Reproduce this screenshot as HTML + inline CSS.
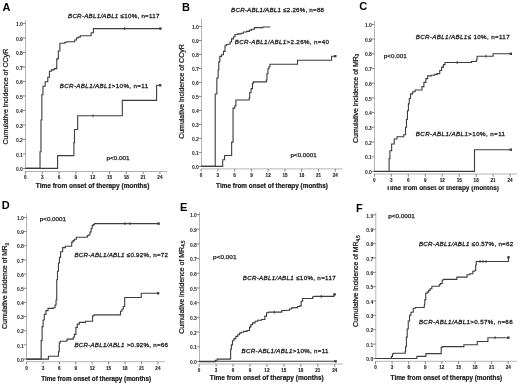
<!DOCTYPE html><html><head><meta charset="utf-8"><style>html,body{margin:0;padding:0;background:#fff;}svg{display:block;filter:blur(0.3px);}text{font-family:"Liberation Sans", sans-serif;}</style></head><body>
<svg width="520" height="384" viewBox="0 0 520 384">
<rect width="520" height="384" fill="#fff"/>
<g><text x="2.6" y="10.6" font-size="11" font-weight="bold" fill="#000">A</text><line x1="25.5" y1="20" x2="25.5" y2="168.95" stroke="#b4b4b4" stroke-width="1"/><line x1="22.7" y1="168.45" x2="25.5" y2="168.45" stroke="#6a6a6a" stroke-width="0.8"/><text x="22.9" y="171.1" font-size="5" font-weight="bold" text-anchor="end" fill="#1a1a1a">0.0</text><line x1="22.7" y1="153.95" x2="25.5" y2="153.95" stroke="#6a6a6a" stroke-width="0.8"/><text x="22.9" y="156.6" font-size="5" font-weight="bold" text-anchor="end" fill="#1a1a1a">0.1</text><line x1="22.7" y1="139.45" x2="25.5" y2="139.45" stroke="#6a6a6a" stroke-width="0.8"/><text x="22.9" y="142.1" font-size="5" font-weight="bold" text-anchor="end" fill="#1a1a1a">0.2</text><line x1="22.7" y1="124.95" x2="25.5" y2="124.95" stroke="#6a6a6a" stroke-width="0.8"/><text x="22.9" y="127.6" font-size="5" font-weight="bold" text-anchor="end" fill="#1a1a1a">0.3</text><line x1="22.7" y1="110.45" x2="25.5" y2="110.45" stroke="#6a6a6a" stroke-width="0.8"/><text x="22.9" y="113.1" font-size="5" font-weight="bold" text-anchor="end" fill="#1a1a1a">0.4</text><line x1="22.7" y1="95.95" x2="25.5" y2="95.95" stroke="#6a6a6a" stroke-width="0.8"/><text x="22.9" y="98.6" font-size="5" font-weight="bold" text-anchor="end" fill="#1a1a1a">0.5</text><line x1="22.7" y1="81.45" x2="25.5" y2="81.45" stroke="#6a6a6a" stroke-width="0.8"/><text x="22.9" y="84.1" font-size="5" font-weight="bold" text-anchor="end" fill="#1a1a1a">0.6</text><line x1="22.7" y1="66.95" x2="25.5" y2="66.95" stroke="#6a6a6a" stroke-width="0.8"/><text x="22.9" y="69.6" font-size="5" font-weight="bold" text-anchor="end" fill="#1a1a1a">0.7</text><line x1="22.7" y1="52.45" x2="25.5" y2="52.45" stroke="#6a6a6a" stroke-width="0.8"/><text x="22.9" y="55.1" font-size="5" font-weight="bold" text-anchor="end" fill="#1a1a1a">0.8</text><line x1="22.7" y1="37.95" x2="25.5" y2="37.95" stroke="#6a6a6a" stroke-width="0.8"/><text x="22.9" y="40.6" font-size="5" font-weight="bold" text-anchor="end" fill="#1a1a1a">0.9</text><line x1="22.7" y1="23.45" x2="25.5" y2="23.45" stroke="#6a6a6a" stroke-width="0.8"/><text x="22.9" y="26.1" font-size="5" font-weight="bold" text-anchor="end" fill="#1a1a1a">1.0</text><line x1="25" y1="171.5" x2="167.2" y2="171.5" stroke="#b4b4b4" stroke-width="1"/><line x1="25.4" y1="171.5" x2="25.4" y2="174.3" stroke="#6a6a6a" stroke-width="0.8"/><text x="25.4" y="179.4" font-size="4.6" font-weight="bold" text-anchor="middle" fill="#1a1a1a" stroke="#1a1a1a" stroke-width="0.1">0</text><line x1="42.21" y1="171.5" x2="42.21" y2="174.3" stroke="#6a6a6a" stroke-width="0.8"/><text x="42.21" y="179.4" font-size="4.6" font-weight="bold" text-anchor="middle" fill="#1a1a1a" stroke="#1a1a1a" stroke-width="0.1">3</text><line x1="59.02" y1="171.5" x2="59.02" y2="174.3" stroke="#6a6a6a" stroke-width="0.8"/><text x="59.02" y="179.4" font-size="4.6" font-weight="bold" text-anchor="middle" fill="#1a1a1a" stroke="#1a1a1a" stroke-width="0.1">6</text><line x1="75.84" y1="171.5" x2="75.84" y2="174.3" stroke="#6a6a6a" stroke-width="0.8"/><text x="75.84" y="179.4" font-size="4.6" font-weight="bold" text-anchor="middle" fill="#1a1a1a" stroke="#1a1a1a" stroke-width="0.1">9</text><line x1="92.65" y1="171.5" x2="92.65" y2="174.3" stroke="#6a6a6a" stroke-width="0.8"/><text x="92.65" y="179.4" font-size="4.6" font-weight="bold" text-anchor="middle" fill="#1a1a1a" stroke="#1a1a1a" stroke-width="0.1">12</text><line x1="109.46" y1="171.5" x2="109.46" y2="174.3" stroke="#6a6a6a" stroke-width="0.8"/><text x="109.46" y="179.4" font-size="4.6" font-weight="bold" text-anchor="middle" fill="#1a1a1a" stroke="#1a1a1a" stroke-width="0.1">15</text><line x1="126.28" y1="171.5" x2="126.28" y2="174.3" stroke="#6a6a6a" stroke-width="0.8"/><text x="126.28" y="179.4" font-size="4.6" font-weight="bold" text-anchor="middle" fill="#1a1a1a" stroke="#1a1a1a" stroke-width="0.1">18</text><line x1="143.09" y1="171.5" x2="143.09" y2="174.3" stroke="#6a6a6a" stroke-width="0.8"/><text x="143.09" y="179.4" font-size="4.6" font-weight="bold" text-anchor="middle" fill="#1a1a1a" stroke="#1a1a1a" stroke-width="0.1">21</text><line x1="159.9" y1="171.5" x2="159.9" y2="174.3" stroke="#6a6a6a" stroke-width="0.8"/><text x="159.9" y="179.4" font-size="4.6" font-weight="bold" text-anchor="middle" fill="#1a1a1a" stroke="#1a1a1a" stroke-width="0.1">24</text><text x="35.8" y="188.2" font-size="6.5" font-weight="bold" fill="#1a1a1a" stroke="#1a1a1a" stroke-width="0.2" textLength="113.6" lengthAdjust="spacingAndGlyphs">Time from onset of therapy (months)</text><text transform="translate(8,144.5) rotate(-90)" x="0" y="0" font-size="7" fill="#1a1a1a" stroke="#1a1a1a" stroke-width="0.25" textLength="95.8" lengthAdjust="spacingAndGlyphs">Cumulative incidence of CCyR</text><text x="68" y="18.3" font-size="6.2" fill="#1a1a1a" stroke="#1a1a1a" stroke-width="0.28" textLength="91.4" lengthAdjust="spacing"><tspan font-style="italic">BCR-ABL1/ABL1</tspan> ≤10%, n=117</text><text x="59.7" y="88.4" font-size="6.2" fill="#1a1a1a" stroke="#1a1a1a" stroke-width="0.28" textLength="88.4" lengthAdjust="spacing"><tspan font-style="italic">BCR-ABL1/ABL1</tspan>>10%, n=11</text><text x="106.5" y="159.7" font-size="6.0" fill="#1a1a1a" stroke="#1a1a1a" stroke-width="0.25" textLength="23.1" lengthAdjust="spacingAndGlyphs">p&lt;0.001</text><polyline points="25.4,168.4 39.3,168.4 40.02,168.4 40.02,151.75 40.75,151.75 40.98,151.75 40.98,120 41.2,120 41.85,120 41.85,94.7 42.5,94.7 42.95,94.7 42.95,86.3 43.4,86.3 45.2,86.3 45.2,81.7 47,81.7 47.8,81.7 47.8,77.2 48.6,77.2 49.45,77.2 49.45,71.3 50.3,71.3 51.45,71.3 51.45,69.9 52.6,69.9 54.25,69.9 54.25,68.6 55.9,68.6 56.75,68.6 56.75,58.9 57.6,58.9 58.35,58.9 58.35,51 59.1,51 59.9,51 59.9,43.2 60.7,43.2 63.7,43.2 64.65,43.2 64.65,42.3 65.6,42.3 66.9,42.3 66.9,41.7 68.2,41.7 73.4,41.7 74.7,41.7 74.7,40 76,40 76.55,40 76.55,38 77.1,38 78.2,38 78.2,37.1 79.3,37.1 80.28,37.1 80.28,35.7 81.25,35.7 90.4,35.7 91.15,35.7 91.15,32.8 91.9,32.8 93.4,32.8 93.4,28.6 94.9,28.6 160.4,28.6" fill="none" stroke="#3c3c3c" stroke-width="1.1" stroke-linejoin="miter"/><rect x="159.2" y="27.4" width="2.4" height="2.4" fill="#3c3c3c"/><polyline points="25.4,168.4 57.6,168.4 57.6,155.65 73.9,155.65 73.9,142.6 74.5,142.6 74.5,129.5 77.7,129.5 77.7,115.8 122.3,115.8 122.3,100.4 156.6,100.4 156.6,85.3 160.2,85.3" fill="none" stroke="#3c3c3c" stroke-width="1.1" stroke-linejoin="miter"/><rect x="159" y="84.1" width="2.4" height="2.4" fill="#3c3c3c"/><rect x="124.1" y="27.2" width="1" height="2.8" fill="#3c3c3c"/><rect x="92.5" y="114.4" width="1" height="2.8" fill="#3c3c3c"/></g>
<g><text x="182.1" y="11" font-size="11" font-weight="bold" fill="#000">B</text><line x1="201.5" y1="18.75" x2="201.5" y2="166.9" stroke="#b4b4b4" stroke-width="1"/><line x1="198.7" y1="166.4" x2="201.5" y2="166.4" stroke="#6a6a6a" stroke-width="0.8"/><text x="198.9" y="169.05" font-size="5" font-weight="bold" text-anchor="end" fill="#1a1a1a">0.0</text><line x1="198.7" y1="152.41" x2="201.5" y2="152.41" stroke="#6a6a6a" stroke-width="0.8"/><text x="198.9" y="155.06" font-size="5" font-weight="bold" text-anchor="end" fill="#1a1a1a">0.1</text><line x1="198.7" y1="138.42" x2="201.5" y2="138.42" stroke="#6a6a6a" stroke-width="0.8"/><text x="198.9" y="141.07" font-size="5" font-weight="bold" text-anchor="end" fill="#1a1a1a">0.2</text><line x1="198.7" y1="124.43" x2="201.5" y2="124.43" stroke="#6a6a6a" stroke-width="0.8"/><text x="198.9" y="127.08" font-size="5" font-weight="bold" text-anchor="end" fill="#1a1a1a">0.3</text><line x1="198.7" y1="110.44" x2="201.5" y2="110.44" stroke="#6a6a6a" stroke-width="0.8"/><text x="198.9" y="113.09" font-size="5" font-weight="bold" text-anchor="end" fill="#1a1a1a">0.4</text><line x1="198.7" y1="96.45" x2="201.5" y2="96.45" stroke="#6a6a6a" stroke-width="0.8"/><text x="198.9" y="99.1" font-size="5" font-weight="bold" text-anchor="end" fill="#1a1a1a">0.5</text><line x1="198.7" y1="82.46" x2="201.5" y2="82.46" stroke="#6a6a6a" stroke-width="0.8"/><text x="198.9" y="85.11" font-size="5" font-weight="bold" text-anchor="end" fill="#1a1a1a">0.6</text><line x1="198.7" y1="68.47" x2="201.5" y2="68.47" stroke="#6a6a6a" stroke-width="0.8"/><text x="198.9" y="71.12" font-size="5" font-weight="bold" text-anchor="end" fill="#1a1a1a">0.7</text><line x1="198.7" y1="54.48" x2="201.5" y2="54.48" stroke="#6a6a6a" stroke-width="0.8"/><text x="198.9" y="57.13" font-size="5" font-weight="bold" text-anchor="end" fill="#1a1a1a">0.8</text><line x1="198.7" y1="40.49" x2="201.5" y2="40.49" stroke="#6a6a6a" stroke-width="0.8"/><text x="198.9" y="43.14" font-size="5" font-weight="bold" text-anchor="end" fill="#1a1a1a">0.9</text><line x1="198.7" y1="26.5" x2="201.5" y2="26.5" stroke="#6a6a6a" stroke-width="0.8"/><text x="198.9" y="29.15" font-size="5" font-weight="bold" text-anchor="end" fill="#1a1a1a">1.0</text><line x1="201" y1="168.9" x2="342.5" y2="168.9" stroke="#b4b4b4" stroke-width="1"/><line x1="201.1" y1="168.9" x2="201.1" y2="171.7" stroke="#6a6a6a" stroke-width="0.8"/><text x="201.1" y="176.8" font-size="4.6" font-weight="bold" text-anchor="middle" fill="#1a1a1a" stroke="#1a1a1a" stroke-width="0.1">0</text><line x1="217.87" y1="168.9" x2="217.87" y2="171.7" stroke="#6a6a6a" stroke-width="0.8"/><text x="217.87" y="176.8" font-size="4.6" font-weight="bold" text-anchor="middle" fill="#1a1a1a" stroke="#1a1a1a" stroke-width="0.1">3</text><line x1="234.64" y1="168.9" x2="234.64" y2="171.7" stroke="#6a6a6a" stroke-width="0.8"/><text x="234.64" y="176.8" font-size="4.6" font-weight="bold" text-anchor="middle" fill="#1a1a1a" stroke="#1a1a1a" stroke-width="0.1">6</text><line x1="251.41" y1="168.9" x2="251.41" y2="171.7" stroke="#6a6a6a" stroke-width="0.8"/><text x="251.41" y="176.8" font-size="4.6" font-weight="bold" text-anchor="middle" fill="#1a1a1a" stroke="#1a1a1a" stroke-width="0.1">9</text><line x1="268.18" y1="168.9" x2="268.18" y2="171.7" stroke="#6a6a6a" stroke-width="0.8"/><text x="268.18" y="176.8" font-size="4.6" font-weight="bold" text-anchor="middle" fill="#1a1a1a" stroke="#1a1a1a" stroke-width="0.1">12</text><line x1="284.94" y1="168.9" x2="284.94" y2="171.7" stroke="#6a6a6a" stroke-width="0.8"/><text x="284.94" y="176.8" font-size="4.6" font-weight="bold" text-anchor="middle" fill="#1a1a1a" stroke="#1a1a1a" stroke-width="0.1">15</text><line x1="301.71" y1="168.9" x2="301.71" y2="171.7" stroke="#6a6a6a" stroke-width="0.8"/><text x="301.71" y="176.8" font-size="4.6" font-weight="bold" text-anchor="middle" fill="#1a1a1a" stroke="#1a1a1a" stroke-width="0.1">18</text><line x1="318.48" y1="168.9" x2="318.48" y2="171.7" stroke="#6a6a6a" stroke-width="0.8"/><text x="318.48" y="176.8" font-size="4.6" font-weight="bold" text-anchor="middle" fill="#1a1a1a" stroke="#1a1a1a" stroke-width="0.1">21</text><line x1="335.25" y1="168.9" x2="335.25" y2="171.7" stroke="#6a6a6a" stroke-width="0.8"/><text x="335.25" y="176.8" font-size="4.6" font-weight="bold" text-anchor="middle" fill="#1a1a1a" stroke="#1a1a1a" stroke-width="0.1">24</text><text x="216.1" y="188" font-size="6.5" font-weight="bold" fill="#1a1a1a" stroke="#1a1a1a" stroke-width="0.2" textLength="111.9" lengthAdjust="spacingAndGlyphs">Time from onset of therapy (months)</text><text transform="translate(184.2,138.8) rotate(-90)" x="0" y="0" font-size="7" fill="#1a1a1a" stroke="#1a1a1a" stroke-width="0.25" textLength="94.5" lengthAdjust="spacingAndGlyphs">Cumulative incidence of CCyR</text><text x="231.1" y="11.6" font-size="6.2" fill="#1a1a1a" stroke="#1a1a1a" stroke-width="0.28" textLength="92.9" lengthAdjust="spacing"><tspan font-style="italic">BCR-ABL1/ABL1</tspan> ≤2.26%, n=88</text><text x="234.8" y="44.4" font-size="6.2" fill="#1a1a1a" stroke="#1a1a1a" stroke-width="0.28" textLength="94.2" lengthAdjust="spacing"><tspan font-style="italic">BCR-ABL1/ABL1</tspan>>2.26%, n=40</text><text x="290.6" y="156.6" font-size="6.0" fill="#1a1a1a" stroke="#1a1a1a" stroke-width="0.25" textLength="26" lengthAdjust="spacingAndGlyphs">p&lt;0.0001</text><polyline points="201.1,166.4 214.5,166.4 215.2,166.4 215.2,94 215.9,94 216.85,94 216.85,78 217.8,78 218.15,78 218.15,70 218.5,70 218.75,70 218.75,62 219,62 219.8,62 219.8,56.4 220.6,56.4 221.55,56.4 221.55,54.75 222.5,54.75 223.45,54.75 223.45,51.4 224.4,51.4 225,51.4 225,45.75 225.6,45.75 226.25,45.75 226.25,44.5 226.9,44.5 229.4,44.25 230,44.25 230,42 230.6,42 231.55,42 231.55,38.9 232.5,38.9 233.45,38.9 233.45,36.75 234.4,36.75 235,36.75 235,34.5 235.6,34.5 237.8,34.5 237.8,33.9 240,33.9 241.25,33.9 241.25,33.25 242.5,33.25 243.45,33.25 243.45,32 244.4,32 246.57,32 246.57,31.4 248.75,31.4 249.38,31.4 249.38,30.1 250,30.1 251.55,30.1 251.55,29.25 253.1,29.25 254.35,29.25 254.35,27.6 255.6,27.6 262.95,27.6 262.95,27 270.3,27" fill="none" stroke="#3c3c3c" stroke-width="1.1" stroke-linejoin="miter"/><polyline points="201.1,166.4 222.7,166.4 222.7,159.7 224.6,159.7 224.6,155.5 231.2,155.5 231.65,155.5 231.65,142.1 232.1,142.1 233.05,142.1 233.05,108.1 234,108.1 234.8,108.1 234.8,105.8 235.6,105.8 235.93,105.8 235.93,100 236.25,100 249.2,100 249.2,98 249.75,98 249.75,92.5 250.3,92.5 251.1,92.5 251.1,88.6 251.9,88.6 252.5,88.6 252.5,83.1 253.1,83.1 253.5,83.1 253.5,81.9 253.9,81.9 266.4,81.9 266.4,80 266.95,80 266.95,73.75 267.5,73.75 267.95,73.75 267.95,68.75 268.4,68.75 268.95,68.75 268.95,66.7 269.5,66.7 269.9,66.7 269.9,64.2 270.3,64.2 297.5,64.2 297.5,60.3 331.6,60.3 331.6,56.2 335.3,56.2" fill="none" stroke="#3c3c3c" stroke-width="1.1" stroke-linejoin="miter"/><rect x="334.1" y="55" width="2.4" height="2.4" fill="#3c3c3c"/></g>
<g><text x="359.2" y="10" font-size="11" font-weight="bold" fill="#000">C</text><line x1="374.5" y1="21" x2="374.5" y2="171.9" stroke="#b4b4b4" stroke-width="1"/><line x1="371.7" y1="171.4" x2="374.5" y2="171.4" stroke="#6a6a6a" stroke-width="0.8"/><text x="371.9" y="174.05" font-size="5" font-weight="bold" text-anchor="end" fill="#1a1a1a">0.0</text><line x1="371.7" y1="156.7" x2="374.5" y2="156.7" stroke="#6a6a6a" stroke-width="0.8"/><text x="371.9" y="159.35" font-size="5" font-weight="bold" text-anchor="end" fill="#1a1a1a">0.1</text><line x1="371.7" y1="142" x2="374.5" y2="142" stroke="#6a6a6a" stroke-width="0.8"/><text x="371.9" y="144.65" font-size="5" font-weight="bold" text-anchor="end" fill="#1a1a1a">0.2</text><line x1="371.7" y1="127.3" x2="374.5" y2="127.3" stroke="#6a6a6a" stroke-width="0.8"/><text x="371.9" y="129.95" font-size="5" font-weight="bold" text-anchor="end" fill="#1a1a1a">0.3</text><line x1="371.7" y1="112.6" x2="374.5" y2="112.6" stroke="#6a6a6a" stroke-width="0.8"/><text x="371.9" y="115.25" font-size="5" font-weight="bold" text-anchor="end" fill="#1a1a1a">0.4</text><line x1="371.7" y1="97.9" x2="374.5" y2="97.9" stroke="#6a6a6a" stroke-width="0.8"/><text x="371.9" y="100.55" font-size="5" font-weight="bold" text-anchor="end" fill="#1a1a1a">0.5</text><line x1="371.7" y1="83.2" x2="374.5" y2="83.2" stroke="#6a6a6a" stroke-width="0.8"/><text x="371.9" y="85.85" font-size="5" font-weight="bold" text-anchor="end" fill="#1a1a1a">0.6</text><line x1="371.7" y1="68.5" x2="374.5" y2="68.5" stroke="#6a6a6a" stroke-width="0.8"/><text x="371.9" y="71.15" font-size="5" font-weight="bold" text-anchor="end" fill="#1a1a1a">0.7</text><line x1="371.7" y1="53.8" x2="374.5" y2="53.8" stroke="#6a6a6a" stroke-width="0.8"/><text x="371.9" y="56.45" font-size="5" font-weight="bold" text-anchor="end" fill="#1a1a1a">0.8</text><line x1="371.7" y1="39.1" x2="374.5" y2="39.1" stroke="#6a6a6a" stroke-width="0.8"/><text x="371.9" y="41.75" font-size="5" font-weight="bold" text-anchor="end" fill="#1a1a1a">0.9</text><line x1="371.7" y1="24.4" x2="374.5" y2="24.4" stroke="#6a6a6a" stroke-width="0.8"/><text x="371.9" y="27.05" font-size="5" font-weight="bold" text-anchor="end" fill="#1a1a1a">1.0</text><line x1="374" y1="174" x2="517" y2="174" stroke="#b4b4b4" stroke-width="1"/><line x1="374.4" y1="174" x2="374.4" y2="176.8" stroke="#6a6a6a" stroke-width="0.8"/><text x="374.4" y="181.9" font-size="4.6" font-weight="bold" text-anchor="middle" fill="#1a1a1a" stroke="#1a1a1a" stroke-width="0.1">0</text><line x1="391.36" y1="174" x2="391.36" y2="176.8" stroke="#6a6a6a" stroke-width="0.8"/><text x="391.36" y="181.9" font-size="4.6" font-weight="bold" text-anchor="middle" fill="#1a1a1a" stroke="#1a1a1a" stroke-width="0.1">3</text><line x1="408.32" y1="174" x2="408.32" y2="176.8" stroke="#6a6a6a" stroke-width="0.8"/><text x="408.32" y="181.9" font-size="4.6" font-weight="bold" text-anchor="middle" fill="#1a1a1a" stroke="#1a1a1a" stroke-width="0.1">6</text><line x1="425.29" y1="174" x2="425.29" y2="176.8" stroke="#6a6a6a" stroke-width="0.8"/><text x="425.29" y="181.9" font-size="4.6" font-weight="bold" text-anchor="middle" fill="#1a1a1a" stroke="#1a1a1a" stroke-width="0.1">9</text><line x1="442.25" y1="174" x2="442.25" y2="176.8" stroke="#6a6a6a" stroke-width="0.8"/><text x="442.25" y="181.9" font-size="4.6" font-weight="bold" text-anchor="middle" fill="#1a1a1a" stroke="#1a1a1a" stroke-width="0.1">12</text><line x1="459.21" y1="174" x2="459.21" y2="176.8" stroke="#6a6a6a" stroke-width="0.8"/><text x="459.21" y="181.9" font-size="4.6" font-weight="bold" text-anchor="middle" fill="#1a1a1a" stroke="#1a1a1a" stroke-width="0.1">15</text><line x1="476.18" y1="174" x2="476.18" y2="176.8" stroke="#6a6a6a" stroke-width="0.8"/><text x="476.18" y="181.9" font-size="4.6" font-weight="bold" text-anchor="middle" fill="#1a1a1a" stroke="#1a1a1a" stroke-width="0.1">18</text><line x1="493.14" y1="174" x2="493.14" y2="176.8" stroke="#6a6a6a" stroke-width="0.8"/><text x="493.14" y="181.9" font-size="4.6" font-weight="bold" text-anchor="middle" fill="#1a1a1a" stroke="#1a1a1a" stroke-width="0.1">21</text><line x1="510.1" y1="174" x2="510.1" y2="176.8" stroke="#6a6a6a" stroke-width="0.8"/><text x="510.1" y="181.9" font-size="4.6" font-weight="bold" text-anchor="middle" fill="#1a1a1a" stroke="#1a1a1a" stroke-width="0.1">24</text><text x="386.2" y="189.6" font-size="6.5" font-weight="bold" fill="#1a1a1a" stroke="#1a1a1a" stroke-width="0.2" textLength="112.7" lengthAdjust="spacingAndGlyphs">Time from onset of therapy (months)</text><text transform="translate(357.8,143) rotate(-90)" x="0" y="0" font-size="7" fill="#1a1a1a" stroke="#1a1a1a" stroke-width="0.25" textLength="89.25" lengthAdjust="spacingAndGlyphs">Cumulative incidence of MR<tspan font-size="4.5" dy="1.6">3</tspan></text><text x="415.7" y="39.2" font-size="6.2" fill="#1a1a1a" stroke="#1a1a1a" stroke-width="0.28" textLength="93.9" lengthAdjust="spacing"><tspan font-style="italic">BCR-ABL1/ABL1</tspan>≤ 10%, n=117</text><text x="415.7" y="136.1" font-size="6.2" fill="#1a1a1a" stroke="#1a1a1a" stroke-width="0.28" textLength="89.3" lengthAdjust="spacing"><tspan font-style="italic">BCR-ABL1/ABL1</tspan>>10%, n=11</text><text x="383.8" y="57.7" font-size="6.0" fill="#1a1a1a" stroke="#1a1a1a" stroke-width="0.25" textLength="22.9" lengthAdjust="spacingAndGlyphs">p&lt;0.001</text><polyline points="374.4,171.5 388.9,171.5 389.1,171.5 389.1,158.6 389.3,158.6 389.9,158.6 389.9,150.8 390.5,150.8 391.65,150.8 391.65,144 392.8,144 394.25,144 394.25,139 395.7,139 397,139 397,136.7 398.3,136.7 402.6,136.7 403.75,136.7 403.75,134.8 404.9,134.8 405.5,134.8 405.5,127.3 406.1,127.3 406.5,127.3 406.5,119.5 406.9,119.5 407.45,119.5 407.45,110.7 408,110.7 408.4,110.7 408.4,103.9 408.8,103.9 409.25,103.9 409.25,98.5 409.7,98.5 410.55,98.5 410.55,93.9 411.4,93.9 412.6,93.9 412.6,91.7 413.8,91.7 415.15,91.7 415.15,90 416.5,90 421.1,90 421.95,90 421.95,86.6 422.8,86.6 423.9,86.6 423.9,82.4 425,82.4 425.85,82.4 425.85,78.6 426.7,78.6 427.7,78.6 427.7,75.9 428.7,75.9 431.25,75.9 431.25,75.3 433.8,75.3 434.65,75.3 434.65,74.4 435.5,74.4 437.2,74.4 437.2,73.6 438.9,73.6 439.75,73.6 439.75,70.5 440.6,70.5 441.6,70.5 441.6,67.1 442.6,67.1 443.45,67.1 443.45,64.6 444.3,64.6 445,64.6 445,62.5 445.7,62.5 471.5,62.5 471.5,61.5 475.7,61.5 476.3,61.5 476.3,60 476.9,60 477.2,56.2 493.1,56.2 493.1,53.8 510.8,53.8" fill="none" stroke="#3c3c3c" stroke-width="1.1" stroke-linejoin="miter"/><rect x="509.6" y="52.6" width="2.4" height="2.4" fill="#3c3c3c"/><polyline points="374.4,171.4 474.5,171.4 474.5,149.7 510.8,149.7" fill="none" stroke="#3c3c3c" stroke-width="1.1" stroke-linejoin="miter"/><rect x="509.6" y="148.5" width="2.4" height="2.4" fill="#3c3c3c"/><rect x="456.7" y="61.1" width="1" height="2.8" fill="#3c3c3c"/><rect x="485.5" y="54.8" width="1" height="2.8" fill="#3c3c3c"/></g>
<g><text x="1.8" y="208.5" font-size="11" font-weight="bold" fill="#000">D</text><line x1="26.5" y1="214.2" x2="26.5" y2="359.6" stroke="#b4b4b4" stroke-width="1"/><line x1="23.7" y1="359.1" x2="26.5" y2="359.1" stroke="#6a6a6a" stroke-width="0.8"/><text x="23.9" y="361.75" font-size="5" font-weight="bold" text-anchor="end" fill="#1a1a1a">0.0</text><line x1="23.7" y1="344.93" x2="26.5" y2="344.93" stroke="#6a6a6a" stroke-width="0.8"/><text x="23.9" y="347.58" font-size="5" font-weight="bold" text-anchor="end" fill="#1a1a1a">0.1</text><line x1="23.7" y1="330.76" x2="26.5" y2="330.76" stroke="#6a6a6a" stroke-width="0.8"/><text x="23.9" y="333.41" font-size="5" font-weight="bold" text-anchor="end" fill="#1a1a1a">0.2</text><line x1="23.7" y1="316.59" x2="26.5" y2="316.59" stroke="#6a6a6a" stroke-width="0.8"/><text x="23.9" y="319.24" font-size="5" font-weight="bold" text-anchor="end" fill="#1a1a1a">0.3</text><line x1="23.7" y1="302.42" x2="26.5" y2="302.42" stroke="#6a6a6a" stroke-width="0.8"/><text x="23.9" y="305.07" font-size="5" font-weight="bold" text-anchor="end" fill="#1a1a1a">0.4</text><line x1="23.7" y1="288.25" x2="26.5" y2="288.25" stroke="#6a6a6a" stroke-width="0.8"/><text x="23.9" y="290.9" font-size="5" font-weight="bold" text-anchor="end" fill="#1a1a1a">0.5</text><line x1="23.7" y1="274.08" x2="26.5" y2="274.08" stroke="#6a6a6a" stroke-width="0.8"/><text x="23.9" y="276.73" font-size="5" font-weight="bold" text-anchor="end" fill="#1a1a1a">0.6</text><line x1="23.7" y1="259.91" x2="26.5" y2="259.91" stroke="#6a6a6a" stroke-width="0.8"/><text x="23.9" y="262.56" font-size="5" font-weight="bold" text-anchor="end" fill="#1a1a1a">0.7</text><line x1="23.7" y1="245.74" x2="26.5" y2="245.74" stroke="#6a6a6a" stroke-width="0.8"/><text x="23.9" y="248.39" font-size="5" font-weight="bold" text-anchor="end" fill="#1a1a1a">0.8</text><line x1="23.7" y1="231.57" x2="26.5" y2="231.57" stroke="#6a6a6a" stroke-width="0.8"/><text x="23.9" y="234.22" font-size="5" font-weight="bold" text-anchor="end" fill="#1a1a1a">0.9</text><line x1="23.7" y1="217.4" x2="26.5" y2="217.4" stroke="#6a6a6a" stroke-width="0.8"/><text x="23.9" y="220.05" font-size="5" font-weight="bold" text-anchor="end" fill="#1a1a1a">1.0</text><line x1="26" y1="361.7" x2="165" y2="361.7" stroke="#b4b4b4" stroke-width="1"/><line x1="26.5" y1="361.7" x2="26.5" y2="364.5" stroke="#6a6a6a" stroke-width="0.8"/><text x="26.5" y="369.6" font-size="4.6" font-weight="bold" text-anchor="middle" fill="#1a1a1a" stroke="#1a1a1a" stroke-width="0.1">0</text><line x1="42.92" y1="361.7" x2="42.92" y2="364.5" stroke="#6a6a6a" stroke-width="0.8"/><text x="42.92" y="369.6" font-size="4.6" font-weight="bold" text-anchor="middle" fill="#1a1a1a" stroke="#1a1a1a" stroke-width="0.1">3</text><line x1="59.35" y1="361.7" x2="59.35" y2="364.5" stroke="#6a6a6a" stroke-width="0.8"/><text x="59.35" y="369.6" font-size="4.6" font-weight="bold" text-anchor="middle" fill="#1a1a1a" stroke="#1a1a1a" stroke-width="0.1">6</text><line x1="75.78" y1="361.7" x2="75.78" y2="364.5" stroke="#6a6a6a" stroke-width="0.8"/><text x="75.78" y="369.6" font-size="4.6" font-weight="bold" text-anchor="middle" fill="#1a1a1a" stroke="#1a1a1a" stroke-width="0.1">9</text><line x1="92.2" y1="361.7" x2="92.2" y2="364.5" stroke="#6a6a6a" stroke-width="0.8"/><text x="92.2" y="369.6" font-size="4.6" font-weight="bold" text-anchor="middle" fill="#1a1a1a" stroke="#1a1a1a" stroke-width="0.1">12</text><line x1="108.62" y1="361.7" x2="108.62" y2="364.5" stroke="#6a6a6a" stroke-width="0.8"/><text x="108.62" y="369.6" font-size="4.6" font-weight="bold" text-anchor="middle" fill="#1a1a1a" stroke="#1a1a1a" stroke-width="0.1">15</text><line x1="125.05" y1="361.7" x2="125.05" y2="364.5" stroke="#6a6a6a" stroke-width="0.8"/><text x="125.05" y="369.6" font-size="4.6" font-weight="bold" text-anchor="middle" fill="#1a1a1a" stroke="#1a1a1a" stroke-width="0.1">18</text><line x1="141.48" y1="361.7" x2="141.48" y2="364.5" stroke="#6a6a6a" stroke-width="0.8"/><text x="141.48" y="369.6" font-size="4.6" font-weight="bold" text-anchor="middle" fill="#1a1a1a" stroke="#1a1a1a" stroke-width="0.1">21</text><line x1="157.9" y1="361.7" x2="157.9" y2="364.5" stroke="#6a6a6a" stroke-width="0.8"/><text x="157.9" y="369.6" font-size="4.6" font-weight="bold" text-anchor="middle" fill="#1a1a1a" stroke="#1a1a1a" stroke-width="0.1">24</text><text x="41.2" y="380.8" font-size="6.5" font-weight="bold" fill="#1a1a1a" stroke="#1a1a1a" stroke-width="0.2" textLength="109.8" lengthAdjust="spacingAndGlyphs">Time from onset of therapy (months)</text><text transform="translate(7,328.9) rotate(-90)" x="0" y="0" font-size="7" fill="#1a1a1a" stroke="#1a1a1a" stroke-width="0.25" textLength="85.9" lengthAdjust="spacingAndGlyphs">Cumulative incidence of MR<tspan font-size="4.5" dy="1.6">3</tspan></text><text x="74.4" y="257.1" font-size="6.2" fill="#1a1a1a" stroke="#1a1a1a" stroke-width="0.28" textLength="93.5" lengthAdjust="spacing"><tspan font-style="italic">BCR-ABL1/ABL1</tspan> ≤0.92%, n=72</text><text x="74.4" y="347.2" font-size="6.2" fill="#1a1a1a" stroke="#1a1a1a" stroke-width="0.28" textLength="93.5" lengthAdjust="spacing"><tspan font-style="italic">BCR-ABL1/ABL1</tspan> >0.92%, n=66</text><text x="39.8" y="221.3" font-size="6.0" fill="#1a1a1a" stroke="#1a1a1a" stroke-width="0.25" textLength="26.2" lengthAdjust="spacingAndGlyphs">p&lt;0.0001</text><polyline points="26.5,359.1 40.7,359.1 41.15,359.1 41.15,340.6 41.6,340.6 42.1,340.6 42.1,326.6 42.6,326.6 43.05,326.6 43.05,320 43.5,320 44.25,320 44.25,314.4 45,314.4 45.95,314.4 45.95,310.6 46.9,310.6 48,310.6 48,308.4 49.1,308.4 52,308.4 53.2,308.4 53.2,307.8 54.4,307.8 55.05,307.8 55.05,305 55.7,305 56.05,305 56.05,300 56.4,300 56.75,300 56.75,279.7 57.1,279.7 57.5,279.7 57.5,271.3 57.9,271.3 58.45,271.3 58.45,263 59,263 59.45,263 59.45,257.4 59.9,257.4 60.6,257.4 60.6,251.8 61.3,251.8 62.65,251.8 62.65,247.6 64,247.6 65.4,247.6 65.4,246.3 66.8,246.3 71,246.3 71.7,246.3 71.7,242.1 72.4,242.1 73,242.1 73,240.6 73.6,240.6 74.4,240.6 74.4,239.3 75.2,239.3 76.35,239.3 76.35,237.3 77.5,237.3 86.9,237.3 87.35,237.3 87.35,235.5 87.8,235.5 88.55,235.5 88.55,235 89.3,235 89.9,235 89.9,232 90.5,232 91.1,232 91.1,228.5 91.7,228.5 92.15,228.5 92.15,225.6 92.6,225.6 93.2,225.6 93.2,224.6 93.8,224.6 94.45,224.6 94.45,223.6 95.1,223.6 158.6,223.6" fill="none" stroke="#3c3c3c" stroke-width="1.1" stroke-linejoin="miter"/><rect x="157.4" y="222.4" width="2.4" height="2.4" fill="#3c3c3c"/><polyline points="26.5,359.1 48.4,359.1 48.4,356.3 58.2,356.3 58.48,356.3 58.48,351.7 58.75,351.7 59.27,351.7 59.27,343 59.8,343 60.1,343 60.1,341.3 60.4,341.3 66.7,341.3 66.7,340.2 67.25,340.2 67.25,339.1 67.8,339.1 73,339.1 73.25,339.1 73.25,337.3 73.5,337.3 74.35,337.3 74.35,334.4 75.2,334.4 75.9,334.4 75.9,327.4 76.6,327.4 77.3,327.4 77.3,324.1 78,324.1 79.4,324.1 79.4,322.4 80.8,322.4 85,322.4 85.4,322.4 85.4,321.3 85.8,321.3 91.9,321.3 92.6,321.3 92.6,315.7 93.3,315.7 94,315.7 94,314.9 94.7,314.9 119.8,314.9 120.5,314.9 120.5,311.2 121.2,311.2 121.9,311.2 121.9,309.3 122.6,309.3 123.3,309.3 123.3,306.5 124,306.5 124.7,306.5 124.7,297.5 125.4,297.5 141,297.5 141.25,297.5 141.25,293.3 141.5,293.3 158.1,293.3" fill="none" stroke="#3c3c3c" stroke-width="1.1" stroke-linejoin="miter"/><rect x="156.9" y="292.1" width="2.4" height="2.4" fill="#3c3c3c"/><rect x="124.5" y="222.2" width="1" height="2.8" fill="#3c3c3c"/><rect x="129.5" y="222.2" width="1" height="2.8" fill="#3c3c3c"/></g>
<g><text x="180.1" y="211" font-size="11" font-weight="bold" fill="#000">E</text><line x1="199.5" y1="212" x2="199.5" y2="362" stroke="#b4b4b4" stroke-width="1"/><line x1="196.7" y1="361.5" x2="199.5" y2="361.5" stroke="#6a6a6a" stroke-width="0.8"/><text x="196.9" y="364.15" font-size="5" font-weight="bold" text-anchor="end" fill="#1a1a1a">0.0</text><line x1="196.7" y1="346.8" x2="199.5" y2="346.8" stroke="#6a6a6a" stroke-width="0.8"/><text x="196.9" y="349.45" font-size="5" font-weight="bold" text-anchor="end" fill="#1a1a1a">0.1</text><line x1="196.7" y1="332.1" x2="199.5" y2="332.1" stroke="#6a6a6a" stroke-width="0.8"/><text x="196.9" y="334.75" font-size="5" font-weight="bold" text-anchor="end" fill="#1a1a1a">0.2</text><line x1="196.7" y1="317.4" x2="199.5" y2="317.4" stroke="#6a6a6a" stroke-width="0.8"/><text x="196.9" y="320.05" font-size="5" font-weight="bold" text-anchor="end" fill="#1a1a1a">0.3</text><line x1="196.7" y1="302.7" x2="199.5" y2="302.7" stroke="#6a6a6a" stroke-width="0.8"/><text x="196.9" y="305.35" font-size="5" font-weight="bold" text-anchor="end" fill="#1a1a1a">0.4</text><line x1="196.7" y1="288" x2="199.5" y2="288" stroke="#6a6a6a" stroke-width="0.8"/><text x="196.9" y="290.65" font-size="5" font-weight="bold" text-anchor="end" fill="#1a1a1a">0.5</text><line x1="196.7" y1="273.3" x2="199.5" y2="273.3" stroke="#6a6a6a" stroke-width="0.8"/><text x="196.9" y="275.95" font-size="5" font-weight="bold" text-anchor="end" fill="#1a1a1a">0.6</text><line x1="196.7" y1="258.6" x2="199.5" y2="258.6" stroke="#6a6a6a" stroke-width="0.8"/><text x="196.9" y="261.25" font-size="5" font-weight="bold" text-anchor="end" fill="#1a1a1a">0.7</text><line x1="196.7" y1="243.9" x2="199.5" y2="243.9" stroke="#6a6a6a" stroke-width="0.8"/><text x="196.9" y="246.55" font-size="5" font-weight="bold" text-anchor="end" fill="#1a1a1a">0.8</text><line x1="196.7" y1="229.2" x2="199.5" y2="229.2" stroke="#6a6a6a" stroke-width="0.8"/><text x="196.9" y="231.85" font-size="5" font-weight="bold" text-anchor="end" fill="#1a1a1a">0.9</text><line x1="196.7" y1="214.5" x2="199.5" y2="214.5" stroke="#6a6a6a" stroke-width="0.8"/><text x="196.9" y="217.15" font-size="5" font-weight="bold" text-anchor="end" fill="#1a1a1a">1.0</text><line x1="199" y1="364" x2="343" y2="364" stroke="#b4b4b4" stroke-width="1"/><line x1="199.1" y1="364" x2="199.1" y2="366.8" stroke="#6a6a6a" stroke-width="0.8"/><text x="199.1" y="371.9" font-size="4.6" font-weight="bold" text-anchor="middle" fill="#1a1a1a" stroke="#1a1a1a" stroke-width="0.1">0</text><line x1="216.06" y1="364" x2="216.06" y2="366.8" stroke="#6a6a6a" stroke-width="0.8"/><text x="216.06" y="371.9" font-size="4.6" font-weight="bold" text-anchor="middle" fill="#1a1a1a" stroke="#1a1a1a" stroke-width="0.1">3</text><line x1="233.01" y1="364" x2="233.01" y2="366.8" stroke="#6a6a6a" stroke-width="0.8"/><text x="233.01" y="371.9" font-size="4.6" font-weight="bold" text-anchor="middle" fill="#1a1a1a" stroke="#1a1a1a" stroke-width="0.1">6</text><line x1="249.97" y1="364" x2="249.97" y2="366.8" stroke="#6a6a6a" stroke-width="0.8"/><text x="249.97" y="371.9" font-size="4.6" font-weight="bold" text-anchor="middle" fill="#1a1a1a" stroke="#1a1a1a" stroke-width="0.1">9</text><line x1="266.93" y1="364" x2="266.93" y2="366.8" stroke="#6a6a6a" stroke-width="0.8"/><text x="266.93" y="371.9" font-size="4.6" font-weight="bold" text-anchor="middle" fill="#1a1a1a" stroke="#1a1a1a" stroke-width="0.1">12</text><line x1="283.88" y1="364" x2="283.88" y2="366.8" stroke="#6a6a6a" stroke-width="0.8"/><text x="283.88" y="371.9" font-size="4.6" font-weight="bold" text-anchor="middle" fill="#1a1a1a" stroke="#1a1a1a" stroke-width="0.1">15</text><line x1="300.84" y1="364" x2="300.84" y2="366.8" stroke="#6a6a6a" stroke-width="0.8"/><text x="300.84" y="371.9" font-size="4.6" font-weight="bold" text-anchor="middle" fill="#1a1a1a" stroke="#1a1a1a" stroke-width="0.1">18</text><line x1="317.79" y1="364" x2="317.79" y2="366.8" stroke="#6a6a6a" stroke-width="0.8"/><text x="317.79" y="371.9" font-size="4.6" font-weight="bold" text-anchor="middle" fill="#1a1a1a" stroke="#1a1a1a" stroke-width="0.1">21</text><line x1="334.75" y1="364" x2="334.75" y2="366.8" stroke="#6a6a6a" stroke-width="0.8"/><text x="334.75" y="371.9" font-size="4.6" font-weight="bold" text-anchor="middle" fill="#1a1a1a" stroke="#1a1a1a" stroke-width="0.1">24</text><text x="209.8" y="380.2" font-size="6.5" font-weight="bold" fill="#1a1a1a" stroke="#1a1a1a" stroke-width="0.2" textLength="113.9" lengthAdjust="spacingAndGlyphs">Time from onset of therapy (months)</text><text transform="translate(183.5,333.75) rotate(-90)" x="0" y="0" font-size="7" fill="#1a1a1a" stroke="#1a1a1a" stroke-width="0.25" textLength="93.15" lengthAdjust="spacingAndGlyphs">Cumulative incidence of MR<tspan font-size="4.5" dy="1.6">4.5</tspan></text><text x="242.7" y="280.4" font-size="6.2" fill="#1a1a1a" stroke="#1a1a1a" stroke-width="0.28" textLength="92.9" lengthAdjust="spacing"><tspan font-style="italic">BCR-ABL1/ABL1</tspan> ≤10%, n=117</text><text x="241.6" y="352.7" font-size="6.2" fill="#1a1a1a" stroke="#1a1a1a" stroke-width="0.28" textLength="86.9" lengthAdjust="spacing"><tspan font-style="italic">BCR-ABL1/ABL1</tspan>>10%, n=11</text><text x="213.1" y="258.5" font-size="6.0" fill="#1a1a1a" stroke="#1a1a1a" stroke-width="0.25" textLength="23.4" lengthAdjust="spacingAndGlyphs">p&lt;0.001</text><polyline points="199.1,361.6 214.7,361.6 215.3,361.6 215.3,360.2 215.9,360.2 217.2,360.2 217.2,359.1 218.5,359.1 230,359.1 230.2,359.1 230.2,358.6 230.4,358.6 230.65,358.6 230.65,349.2 230.9,349.2 231.35,349.2 231.35,344.9 231.8,344.9 232.45,344.9 232.45,340.7 233.1,340.7 233.95,340.7 233.95,338.6 234.8,338.6 235.85,338.6 235.85,336.4 236.9,336.4 237.75,336.4 237.75,334.7 238.6,334.7 239.45,334.7 239.45,333.1 240.3,333.1 241.15,333.1 241.15,332.2 242,332.2 243.65,332.2 243.65,331.4 245.3,331.4 247,331.4 247,330.5 248.7,330.5 249.55,330.5 249.55,327.1 250.4,327.1 250.85,327.1 250.85,324.6 251.3,324.6 252.55,324.6 252.55,322.9 253.8,322.9 255.1,322.9 255.1,321.2 256.4,321.2 257.65,321.2 257.65,320.3 258.9,320.3 261.45,320.3 261.45,319.5 264,319.5 264.85,319.5 264.85,316.1 265.7,316.1 266.55,316.1 266.55,312.7 267.4,312.7 268.65,312.7 268.65,312.1 269.9,312.1 281.4,312.1 281.75,312.1 281.75,310.6 282.1,310.6 288.8,310.3 289.5,310.3 289.5,309 290.2,309 291.55,309 291.55,307.9 292.9,307.9 296.2,307.6 297.55,307.6 297.55,306.5 298.9,306.5 299.8,306.5 299.8,305.9 300.7,305.9 301.15,305.9 301.15,301.2 301.6,301.2 302.6,301.2 302.6,298.5 303.6,298.5 311.7,298.5 312.7,298.5 312.7,296.8 313.7,296.8 314.4,296.8 314.4,296.4 315.1,296.4 333.3,296.4 333.95,296.4 333.95,294.4 334.6,294.4" fill="none" stroke="#3c3c3c" stroke-width="1.1" stroke-linejoin="miter"/><rect x="333.4" y="293.2" width="2.4" height="2.4" fill="#3c3c3c"/><polyline points="199.1,361.3 335.6,361.3" fill="none" stroke="#3c3c3c" stroke-width="1.1" stroke-linejoin="miter"/><rect x="334.4" y="360.1" width="2.4" height="2.4" fill="#3c3c3c"/><rect x="273.8" y="310.7" width="1" height="2.8" fill="#3c3c3c"/><rect x="320.7" y="295" width="1" height="2.8" fill="#3c3c3c"/></g>
<g><text x="356.1" y="211.75" font-size="11" font-weight="bold" fill="#000">F</text><line x1="375.8" y1="212.2" x2="375.8" y2="359" stroke="#b4b4b4" stroke-width="1"/><line x1="373" y1="358.5" x2="375.8" y2="358.5" stroke="#6a6a6a" stroke-width="0.8"/><text x="373.2" y="361.15" font-size="5" font-weight="bold" text-anchor="end" fill="#1a1a1a">0.0</text><line x1="373" y1="344.14" x2="375.8" y2="344.14" stroke="#6a6a6a" stroke-width="0.8"/><text x="373.2" y="346.79" font-size="5" font-weight="bold" text-anchor="end" fill="#1a1a1a">0.1</text><line x1="373" y1="329.78" x2="375.8" y2="329.78" stroke="#6a6a6a" stroke-width="0.8"/><text x="373.2" y="332.43" font-size="5" font-weight="bold" text-anchor="end" fill="#1a1a1a">0.2</text><line x1="373" y1="315.42" x2="375.8" y2="315.42" stroke="#6a6a6a" stroke-width="0.8"/><text x="373.2" y="318.07" font-size="5" font-weight="bold" text-anchor="end" fill="#1a1a1a">0.3</text><line x1="373" y1="301.06" x2="375.8" y2="301.06" stroke="#6a6a6a" stroke-width="0.8"/><text x="373.2" y="303.71" font-size="5" font-weight="bold" text-anchor="end" fill="#1a1a1a">0.4</text><line x1="373" y1="286.7" x2="375.8" y2="286.7" stroke="#6a6a6a" stroke-width="0.8"/><text x="373.2" y="289.35" font-size="5" font-weight="bold" text-anchor="end" fill="#1a1a1a">0.5</text><line x1="373" y1="272.34" x2="375.8" y2="272.34" stroke="#6a6a6a" stroke-width="0.8"/><text x="373.2" y="274.99" font-size="5" font-weight="bold" text-anchor="end" fill="#1a1a1a">0.6</text><line x1="373" y1="257.98" x2="375.8" y2="257.98" stroke="#6a6a6a" stroke-width="0.8"/><text x="373.2" y="260.63" font-size="5" font-weight="bold" text-anchor="end" fill="#1a1a1a">0.7</text><line x1="373" y1="243.62" x2="375.8" y2="243.62" stroke="#6a6a6a" stroke-width="0.8"/><text x="373.2" y="246.27" font-size="5" font-weight="bold" text-anchor="end" fill="#1a1a1a">0.8</text><line x1="373" y1="229.26" x2="375.8" y2="229.26" stroke="#6a6a6a" stroke-width="0.8"/><text x="373.2" y="231.91" font-size="5" font-weight="bold" text-anchor="end" fill="#1a1a1a">0.9</text><line x1="373" y1="214.9" x2="375.8" y2="214.9" stroke="#6a6a6a" stroke-width="0.8"/><text x="373.2" y="217.55" font-size="5" font-weight="bold" text-anchor="end" fill="#1a1a1a">1.0</text><line x1="375.3" y1="361.3" x2="516.75" y2="361.3" stroke="#b4b4b4" stroke-width="1"/><line x1="375.5" y1="361.3" x2="375.5" y2="364.1" stroke="#6a6a6a" stroke-width="0.8"/><text x="375.5" y="369.2" font-size="4.6" font-weight="bold" text-anchor="middle" fill="#1a1a1a" stroke="#1a1a1a" stroke-width="0.1">0</text><line x1="392.09" y1="361.3" x2="392.09" y2="364.1" stroke="#6a6a6a" stroke-width="0.8"/><text x="392.09" y="369.2" font-size="4.6" font-weight="bold" text-anchor="middle" fill="#1a1a1a" stroke="#1a1a1a" stroke-width="0.1">3</text><line x1="408.69" y1="361.3" x2="408.69" y2="364.1" stroke="#6a6a6a" stroke-width="0.8"/><text x="408.69" y="369.2" font-size="4.6" font-weight="bold" text-anchor="middle" fill="#1a1a1a" stroke="#1a1a1a" stroke-width="0.1">6</text><line x1="425.28" y1="361.3" x2="425.28" y2="364.1" stroke="#6a6a6a" stroke-width="0.8"/><text x="425.28" y="369.2" font-size="4.6" font-weight="bold" text-anchor="middle" fill="#1a1a1a" stroke="#1a1a1a" stroke-width="0.1">9</text><line x1="441.88" y1="361.3" x2="441.88" y2="364.1" stroke="#6a6a6a" stroke-width="0.8"/><text x="441.88" y="369.2" font-size="4.6" font-weight="bold" text-anchor="middle" fill="#1a1a1a" stroke="#1a1a1a" stroke-width="0.1">12</text><line x1="458.47" y1="361.3" x2="458.47" y2="364.1" stroke="#6a6a6a" stroke-width="0.8"/><text x="458.47" y="369.2" font-size="4.6" font-weight="bold" text-anchor="middle" fill="#1a1a1a" stroke="#1a1a1a" stroke-width="0.1">15</text><line x1="475.06" y1="361.3" x2="475.06" y2="364.1" stroke="#6a6a6a" stroke-width="0.8"/><text x="475.06" y="369.2" font-size="4.6" font-weight="bold" text-anchor="middle" fill="#1a1a1a" stroke="#1a1a1a" stroke-width="0.1">18</text><line x1="491.66" y1="361.3" x2="491.66" y2="364.1" stroke="#6a6a6a" stroke-width="0.8"/><text x="491.66" y="369.2" font-size="4.6" font-weight="bold" text-anchor="middle" fill="#1a1a1a" stroke="#1a1a1a" stroke-width="0.1">21</text><line x1="508.25" y1="361.3" x2="508.25" y2="364.1" stroke="#6a6a6a" stroke-width="0.8"/><text x="508.25" y="369.2" font-size="4.6" font-weight="bold" text-anchor="middle" fill="#1a1a1a" stroke="#1a1a1a" stroke-width="0.1">24</text><text x="390.6" y="380.2" font-size="6.5" font-weight="bold" fill="#1a1a1a" stroke="#1a1a1a" stroke-width="0.2" textLength="111.5" lengthAdjust="spacingAndGlyphs">Time from onset of therapy (months)</text><text transform="translate(358.3,326.9) rotate(-90)" x="0" y="0" font-size="7" fill="#1a1a1a" stroke="#1a1a1a" stroke-width="0.25" textLength="91.5" lengthAdjust="spacingAndGlyphs">Cumulative incidence of MR<tspan font-size="4.5" dy="1.6">4.5</tspan></text><text x="418.9" y="245.9" font-size="6.2" fill="#1a1a1a" stroke="#1a1a1a" stroke-width="0.28" textLength="94.3" lengthAdjust="spacing"><tspan font-style="italic">BCR-ABL1/ABL1</tspan> ≤0.57%, n=62</text><text x="418.9" y="324.3" font-size="6.2" fill="#1a1a1a" stroke="#1a1a1a" stroke-width="0.28" textLength="93.7" lengthAdjust="spacing"><tspan font-style="italic">BCR-ABL1/ABL1</tspan>>0.57%, n=66</text><text x="388.2" y="218" font-size="6.0" fill="#1a1a1a" stroke="#1a1a1a" stroke-width="0.25" textLength="26.6" lengthAdjust="spacingAndGlyphs">p&lt;0.0001</text><polyline points="375.5,358.5 391.1,358.5 391.45,358.5 391.45,356.5 391.8,356.5 392.45,356.5 392.45,353.7 393.1,353.7 393.5,353.7 393.5,353.2 393.9,353.2 405.2,353.2 405.2,351.6 405.6,351.6 405.6,346.8 406,346.8 406.4,346.8 406.4,337.1 406.8,337.1 407.2,337.1 407.2,329 407.6,329 408.25,329 408.25,321 408.9,321 409.55,321 409.55,315.3 410.2,315.3 410.95,315.3 410.95,312.2 411.7,312.2 413.25,312.2 413.25,308.3 414.8,308.3 415.6,308.3 415.6,307.5 416.4,307.5 424.2,307.5 424.4,304.8 424.8,304.8 424.8,299.6 425.2,299.6 425.75,299.6 425.75,293.3 426.3,293.3 427.2,293.3 427.2,292.1 428.1,292.1 428.65,292.1 428.65,290.4 429.2,290.4 430.1,290.4 430.1,288.7 431,288.7 431.85,288.7 431.85,286.3 432.7,286.3 439,286.3 439.3,286.3 439.3,284.6 439.6,284.6 440.45,284.6 440.45,283.5 441.3,283.5 442.2,283.5 442.2,280 443.1,280 443.65,280 443.65,279.4 444.2,279.4 456.3,279.4 456.9,279.4 456.9,277.1 457.5,277.1 466.7,277.1 467,277.1 467,274.8 467.3,274.8 469.9,274.8 469.9,273.7 472.5,273.7 472.8,273.7 472.8,271.3 473.1,271.3 474.25,271.3 474.25,270.8 475.4,270.8 475.7,270.8 475.7,265 476,265 476.3,265 476.3,261.5 476.6,261.5 508.5,261.5 508.5,257.3" fill="none" stroke="#3c3c3c" stroke-width="1.1" stroke-linejoin="miter"/><rect x="507.3" y="256.1" width="2.4" height="2.4" fill="#3c3c3c"/><polyline points="375.5,358.5 416.5,358.5 416.9,358.5 416.9,356.4 417.3,356.4 425.9,356.4 425.9,353.6 440.7,353.6 441.2,353.6 441.2,347.2 441.7,347.2 442.55,347.2 442.55,346.6 443.4,346.6 463.9,346.6 463.9,344.7 477.3,344.7 477.3,341.5 487.9,341.5 487.9,337.7 508.4,337.7" fill="none" stroke="#3c3c3c" stroke-width="1.1" stroke-linejoin="miter"/><rect x="507.2" y="336.5" width="2.4" height="2.4" fill="#3c3c3c"/><rect x="479.5" y="260.1" width="1" height="2.8" fill="#3c3c3c"/><rect x="482.5" y="260.1" width="1" height="2.8" fill="#3c3c3c"/><rect x="485.5" y="260.1" width="1" height="2.8" fill="#3c3c3c"/><rect x="494.5" y="336.3" width="1" height="2.8" fill="#3c3c3c"/></g>
<rect x="376" y="183.2" width="140" height="3.0" fill="#fff"/>
</svg></body></html>
